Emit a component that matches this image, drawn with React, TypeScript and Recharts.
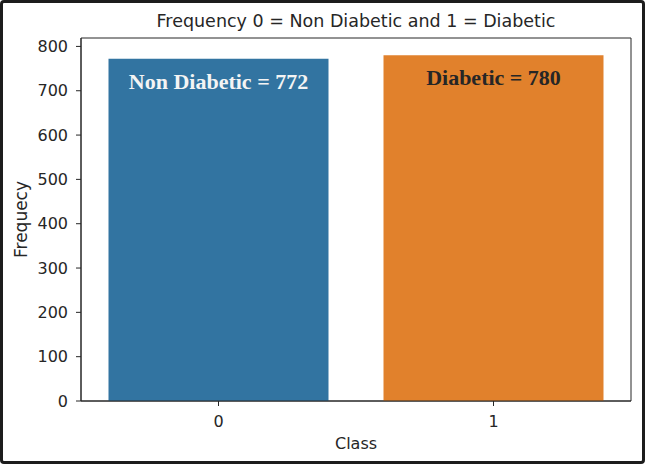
import React from 'react';
import { BarChart, Bar, XAxis, YAxis, Cell, LabelList, ReferenceArea } from 'recharts';

// counts per class
const classes = ['0', '1'];
const counts = [772, 780];
const barLabels = ['Non Diabetic = 772', 'Diabetic = 780'];
const yTicks = [0, 100, 200, 300, 400, 500, 600, 700, 800];

const barColors = ['#3274a1', '#e1812c'];
const labelColors = ['#f4f4f4', '#262626'];
const ink = '#262626';

const data = classes.map((cls, i) => ({
  cls,
  count: counts[i],
  label: barLabels[i],
}));

const renderBarLabel = (props: any) => {
  const { x, y, width, value, index } = props;
  const cx = Number(x) + Number(width) / 2;
  return (
    <text
      x={cx}
      y={Number(y) + 30}
      textAnchor="middle"
      fill={labelColors[index]}
      fontFamily="'Liberation Serif', serif"
      fontWeight="bold"
      fontSize={22}
    >
      {value}
    </text>
  );
};

export default function App() {
  return (
    <div
      style={{
        position: 'absolute',
        left: 0,
        top: 0,
        width: 645,
        height: 464,
        background: '#fff',
        fontFamily: "'DejaVu Sans', sans-serif",
      }}
    >
      <BarChart
        width={645}
        height={464}
        data={data}
        margin={{ top: 38, right: 14, bottom: 0, left: 0 }}
        barCategoryGap="10%"
      >
        <XAxis
          dataKey="cls"
          height={63}
          tickSize={5}
          tickMargin={10}
          tick={{ fill: ink, fontSize: 16 }}
          axisLine={{ stroke: ink }}
          tickLine={{ stroke: ink }}
          label={{ value: 'Class', position: 'insideBottom', offset: 15, fill: ink, fontSize: 16 }}
        />
        <YAxis
          width={81}
          domain={[0, 819]}
          ticks={yTicks}
          interval={0}
          tickSize={5}
          tickMargin={8}
          tick={{ fill: ink, fontSize: 16 }}
          axisLine={{ stroke: ink }}
          tickLine={{ stroke: ink }}
          label={{
            value: 'Frequecy',
            angle: -90,
            position: 'insideLeft',
            offset: 21,
            fill: ink,
            fontSize: 17,
            style: { textAnchor: 'middle' },
          }}
        />
        <Bar dataKey="count" isAnimationActive={false}>
          {data.map((d, i) => (
            <Cell key={d.cls} fill={barColors[i]} />
          ))}
          <LabelList dataKey="label" content={renderBarLabel} />
        </Bar>
        {/* axes frame (all four spines) + title */}
        <ReferenceArea
          y1={0}
          y2={819}
          fill="none"
          fillOpacity={0}
          stroke={ink}
          strokeWidth={1}
          label={{
            value: 'Frequency 0 = Non Diabetic and 1 = Diabetic',
            position: 'top',
            offset: 11,
            fill: ink,
            fontSize: 17.5,
          }}
        />
      </BarChart>
      <div
        style={{
          position: 'absolute',
          left: 0,
          top: 0,
          width: 645,
          height: 464,
          boxSizing: 'border-box',
          border: '3px solid #1c1c1c',
          borderRadius: 4,
          pointerEvents: 'none',
        }}
      />
    </div>
  );
}
